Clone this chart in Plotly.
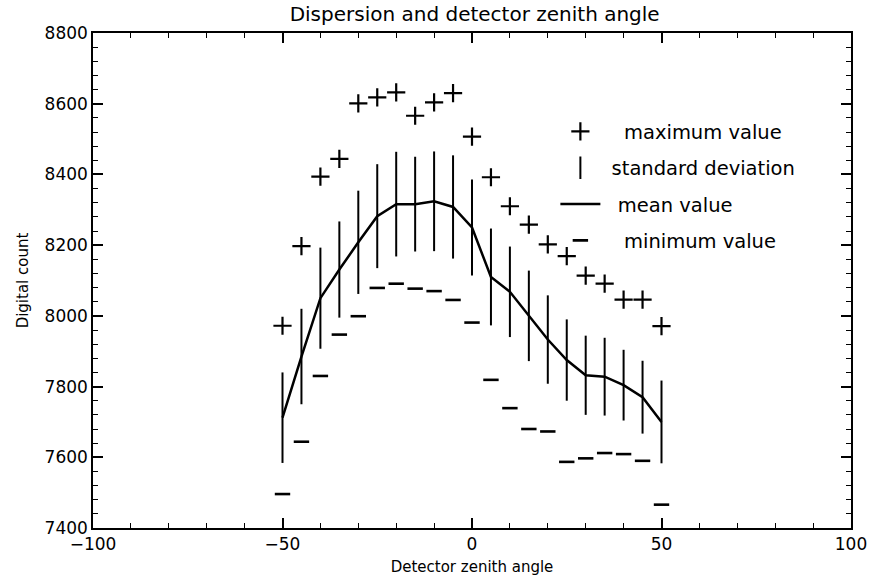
import plotly.graph_objects as go

angle = [-50, -45, -40, -35, -30, -25, -20, -15, -10, -5, 0, 5, 10, 15, 20, 25, 30, 35, 40, 45, 50]
max_value = [7972, 8197, 8394, 8444, 8601, 8618, 8632, 8566, 8604, 8630, 8507, 8392, 8310, 8258, 8202, 8169, 8114, 8091, 8046, 8046, 7971]
mean_value = [7712, 7885, 8050, 8131, 8208, 8282, 8316, 8316, 8324, 8308, 8250, 8110, 8068, 8000, 7933, 7875, 7832, 7828, 7804, 7770, 7700]
std_dev = [128, 135, 143, 136, 146, 147, 148, 134, 141, 146, 136, 137, 128, 128, 125, 115, 112, 110, 100, 103, 117]
min_value = [7496, 7644, 7830, 7947, 7999, 8079, 8091, 8077, 8070, 8045, 7981, 7819, 7739, 7680, 7673, 7587, 7597, 7612, 7609, 7590, 7466]

FONT = "DejaVu Sans"
NB = "\u00a0"

fig = go.Figure()

fig.add_trace(go.Scatter(
    x=angle, y=max_value, mode="markers", name=NB * 3 + "maximum value",
    marker=dict(symbol="cross-thin", size=13, line=dict(width=2.2, color="black"), color="black"),
    legendgroup="a",
))
# standard deviation bars (legend shows a vertical line symbol)
fig.add_trace(go.Scatter(
    x=angle, y=mean_value, mode="markers", showlegend=False,
    marker=dict(size=0.1, color="rgba(0,0,0,0)"),
    error_y=dict(type="data", array=std_dev, symmetric=True, width=0, thickness=2, color="black"),
    hoverinfo="skip",
))
fig.add_trace(go.Scatter(
    x=[None], y=[None], mode="markers", name=NB + "standard deviation",
    marker=dict(symbol="line-ns", size=16, line=dict(width=2, color="black"), color="black"),
    legendgroup="b",
))
fig.add_trace(go.Scatter(
    x=angle, y=mean_value, mode="lines", name=NB * 2 + "mean value",
    line=dict(color="black", width=2.5),
    legendgroup="c",
))
fig.add_trace(go.Scatter(
    x=angle, y=min_value, mode="markers", name=NB * 3 + "minimum value",
    marker=dict(symbol="line-ew", size=11, line=dict(width=2.6, color="black"), color="black"),
    legendgroup="d",
))

axis_common = dict(
    showgrid=False, zeroline=False, showline=True, linecolor="black", linewidth=1.5,
    mirror="allticks", ticks="inside", ticklen=10, tickwidth=1.5, tickcolor="black",
    tickfont=dict(family=FONT, size=17, color="black"),
)

fig.update_xaxes(
    range=[-100, 100], tickvals=[-100, -50, 0, 50, 100], ticktext=["\u2212100", "\u221250", "0", "50", "100"],
    minor=dict(dtick=10, ticks="inside", ticklen=5, tickwidth=1, tickcolor="black", showgrid=False),
    title=dict(text="Detector zenith angle", font=dict(family=FONT, size=15, color="black"), standoff=8),
    **axis_common,
)
fig.update_yaxes(
    range=[7400, 8800], dtick=200, tickformat="d",
    minor=dict(dtick=40, ticks="inside", ticklen=5, tickwidth=1, tickcolor="black", showgrid=False),
    title=dict(text="Digital count", font=dict(family=FONT, size=15, color="black"), standoff=12),
    **axis_common,
)

fig.update_layout(
    width=879, height=585,
    margin=dict(l=93, r=21, t=33, b=56),
    paper_bgcolor="white", plot_bgcolor="white",
    title=dict(text="Dispersion and detector zenith angle", x=0.54, xanchor="center",
               y=1 - 14 / 585, yanchor="middle",
               font=dict(family=FONT, size=20, color="black")),
    legend=dict(x=0.61, y=0.84, xanchor="left", yanchor="top", bgcolor="rgba(0,0,0,0)",
                font=dict(family=FONT, size=19.5, color="black"), tracegroupgap=8,
                traceorder="grouped", itemwidth=40),
    showlegend=True,
)

fig.write_html("out.html")
